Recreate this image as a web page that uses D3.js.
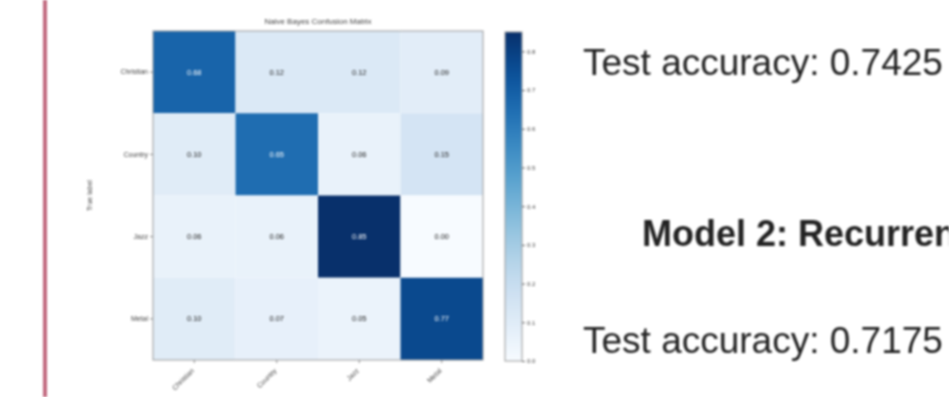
<!DOCTYPE html>
<html>
<head>
<meta charset="utf-8">
<script src="https://cdn.jsdelivr.net/npm/d3@7"></script>
<style>
  html, body { margin: 0; padding: 0; background: #fff; }
  svg { display: block; filter: blur(0.8px); }
</style>
</head>
<body>
<svg id="chart" width="949" height="397"></svg>
<script>
// Genre labels (rows = true label, columns = predicted label)
const genres = ["Christian", "Country", "Jazz", "Metal"];
// Normalised confusion matrix rows
const rowChristian = [0.68, 0.12, 0.12, 0.09];
const rowCountry   = [0.10, 0.65, 0.06, 0.15];
const rowJazz      = [0.06, 0.06, 0.85, 0.00];
const rowMetal     = [0.10, 0.07, 0.05, 0.77];
const matrix = [rowChristian, rowCountry, rowJazz, rowMetal];
const colorbarTicks = [0.0, 0.1, 0.2, 0.3, 0.4, 0.5, 0.6, 0.7, 0.8];
const accuracyLines = ["Test accuracy: 0.7425", "Test accuracy: 0.7175"];
const sectionHeading = "Model 2: Recurrent Neural Network";

const svg = d3.select("#chart");
const font = "'Liberation Sans', Arial, sans-serif";

// slide divider line on the left
svg.append("line")
  .attr("x1", 45).attr("x2", 45).attr("y1", 0).attr("y2", 397)
  .attr("stroke", "#c26a80").attr("stroke-width", 4);

// heatmap area
const plotL = 153, plotT = 31, plotR = 483, plotB = 360;
const x = d3.scaleBand().domain(genres).range([plotL, plotR]);
const y = d3.scaleBand().domain(genres).range([plotT, plotB]);
const vmax = d3.max(matrix.flat());
const color = d3.scaleSequential(d3.interpolateBlues).domain([0, vmax]);

const cells = [];
matrix.forEach((row, i) => row.forEach((v, j) => cells.push({ r: genres[i], c: genres[j], v })));

svg.append("g").selectAll("rect").data(cells).join("rect")
  .attr("x", d => x(d.c)).attr("y", d => y(d.r))
  .attr("width", x.bandwidth()).attr("height", y.bandwidth())
  .attr("fill", d => color(d.v));

svg.append("g").selectAll("text").data(cells).join("text")
  .attr("x", d => x(d.c) + x.bandwidth() / 2)
  .attr("y", d => y(d.r) + y.bandwidth() / 2)
  .attr("text-anchor", "middle").attr("dominant-baseline", "central")
  .attr("font-family", font).attr("font-size", 7.5)
  .attr("fill", d => d.v > vmax / 2 ? "#fff" : "#222")
  .text(d => d.v.toFixed(2));

// frame
svg.append("rect")
  .attr("x", plotL).attr("y", plotT).attr("width", plotR - plotL).attr("height", plotB - plotT)
  .attr("fill", "none").attr("stroke", "#999").attr("stroke-width", 1);

// axes
const yAxis = d3.axisLeft(y).tickSize(3).tickPadding(2);
const gy = svg.append("g").attr("transform", `translate(${plotL},0)`).call(yAxis);
gy.select(".domain").remove();
gy.selectAll("line").attr("stroke", "#888");
gy.selectAll("text").attr("font-family", font).attr("font-size", 7).attr("fill", "#444");

const xAxis = d3.axisBottom(x).tickSize(3).tickPadding(2);
const gx = svg.append("g").attr("transform", `translate(0,${plotB})`).call(xAxis);
gx.select(".domain").remove();
gx.selectAll("line").attr("stroke", "#888");
gx.selectAll("text")
  .attr("font-family", font).attr("font-size", 7).attr("fill", "#444")
  .attr("text-anchor", "end")
  .attr("transform", "translate(0,8) rotate(-45)")
  .attr("dy", "0.35em").attr("y", 0).attr("x", -2);

svg.append("text")
  .attr("transform", `translate(92,${(plotT + plotB) / 2}) rotate(-90)`)
  .attr("text-anchor", "middle")
  .attr("font-family", font).attr("font-size", 7).attr("fill", "#444")
  .text("True label");

svg.append("text")
  .attr("x", (plotL + plotR) / 2).attr("y", 24)
  .attr("text-anchor", "middle")
  .attr("font-family", font).attr("font-size", 8).attr("fill", "#444")
  .text("Naive Bayes Confusion Matrix");

// colorbar
const cbX = 505, cbW = 17, cbTop = 32, cbBottom = 361;
const cbScale = d3.scaleLinear().domain([0, vmax]).range([cbBottom, cbTop]);
const defs = svg.append("defs");
const grad = defs.append("linearGradient").attr("id", "cbgrad")
  .attr("x1", 0).attr("x2", 0).attr("y1", 1).attr("y2", 0);
d3.range(0, 1.0001, 0.05).forEach(t => {
  grad.append("stop").attr("offset", t).attr("stop-color", color(t * vmax));
});
svg.append("rect")
  .attr("x", cbX).attr("y", cbTop).attr("width", cbW).attr("height", cbBottom - cbTop)
  .attr("fill", "url(#cbgrad)").attr("stroke", "#999").attr("stroke-width", 1);
const cbAxis = d3.axisRight(cbScale).tickValues(colorbarTicks).tickFormat(d3.format(".1f"))
  .tickSize(3).tickPadding(2);
const gcb = svg.append("g").attr("transform", `translate(${cbX + cbW},0)`).call(cbAxis);
gcb.select(".domain").remove();
gcb.selectAll("line").attr("stroke", "#666");
gcb.selectAll("text").attr("font-family", font).attr("font-size", 6).attr("fill", "#444");

// slide text on the right
svg.append("text")
  .attr("x", 583).attr("y", 75)
  .attr("font-family", font).attr("font-size", 37).attr("fill", "#222")
  .text(accuracyLines[0]);
svg.append("text")
  .attr("x", 642).attr("y", 246)
  .attr("font-family", font).attr("font-size", 36).attr("font-weight", "bold").attr("fill", "#222")
  .text(sectionHeading);
svg.append("text")
  .attr("x", 583).attr("y", 353)
  .attr("font-family", font).attr("font-size", 37).attr("fill", "#222")
  .text(accuracyLines[1]);
</script>
</body>
</html>
